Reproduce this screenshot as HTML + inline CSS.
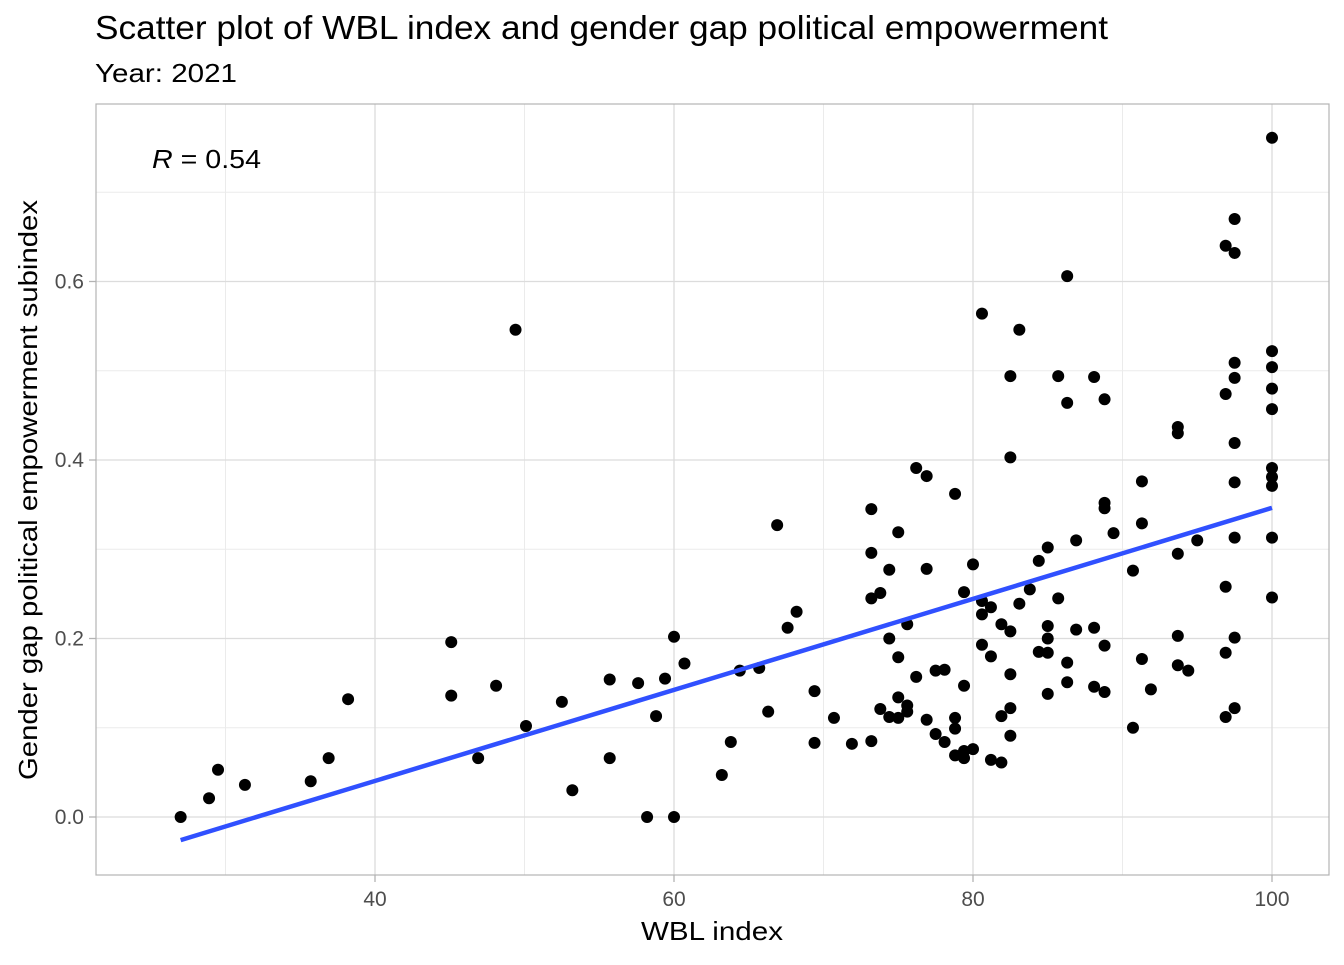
<!DOCTYPE html>
<html><head><meta charset="utf-8"><style>
body{margin:0;background:#fff;}
svg text{font-family:"Liberation Sans",Arial,sans-serif;}
</style></head><body>
<svg id="chart" width="1344" height="960" xmlns="http://www.w3.org/2000/svg">
<text x="95" y="39" font-size="33" textLength="1013" lengthAdjust="spacingAndGlyphs" fill="#000">Scatter plot of WBL index and gender gap political empowerment</text>
<text x="95" y="82" font-size="26" textLength="142" lengthAdjust="spacingAndGlyphs" fill="#000">Year: 2021</text>
<g id="grid"></g>
<g id="pts"></g>
<g id="fit"></g>
<rect x="96" y="104" width="1233" height="771" fill="none" stroke="#b3b3b3" stroke-width="1.2"/>
<g id="axes"></g>
<text x="152" y="168" font-size="26" textLength="109" lengthAdjust="spacingAndGlyphs" fill="#000"><tspan font-style="italic">R</tspan> = 0.54</text>
<text x="641" y="940" font-size="26" textLength="142" lengthAdjust="spacingAndGlyphs" fill="#000">WBL index</text>
<text transform="translate(37,780) rotate(-90)" font-size="26" textLength="580" lengthAdjust="spacingAndGlyphs" fill="#000">Gender gap political empowerment subindex</text>
</svg>
<script>
const xVals=[27,28.9,29.5,31.3,35.7,36.9,38.2,45.1,45.1,46.9,48.1,49.4,50.1,52.5,53.2,55.7,55.7,57.6,58.2,58.8,59.4,60,60,60.7,63.2,63.8,64.4,65.7,66.3,66.9,67.6,68.2,69.4,69.4,70.7,71.9,73.2,73.2,73.2,73.2,73.8,73.8,74.4,74.4,74.4,75,75,75,75,75.6,75.6,75.6,76.2,76.2,76.9,76.9,76.9,77.5,77.5,78.1,78.1,78.8,78.8,78.8,78.8,79.4,79.4,79.4,79.4,80,80,80.6,80.6,80.6,80.6,81.2,81.2,81.2,81.9,81.9,81.9,82.5,82.5,82.5,82.5,82.5,82.5,83.1,83.1,83.8,84.4,84.4,85,85,85,85,85,85.7,85.7,86.3,86.3,86.3,86.3,86.9,86.9,88.1,88.1,88.1,88.8,88.8,88.8,88.8,88.8,89.4,90.7,90.7,91.3,91.3,91.3,91.9,93.7,93.7,93.7,93.7,93.7,94.4,95,96.9,96.9,96.9,96.9,96.9,97.5,97.5,97.5,97.5,97.5,97.5,97.5,97.5,97.5,100,100,100,100,100,100,100,100,100,100];
const yVals=[0,0.021,0.053,0.036,0.04,0.066,0.132,0.196,0.136,0.066,0.147,0.546,0.102,0.129,0.03,0.154,0.066,0.15,0,0.113,0.155,0.202,0,0.172,0.047,0.084,0.164,0.167,0.118,0.327,0.212,0.23,0.141,0.083,0.111,0.082,0.345,0.296,0.245,0.085,0.251,0.121,0.277,0.2,0.112,0.319,0.179,0.134,0.111,0.216,0.125,0.118,0.391,0.157,0.382,0.278,0.109,0.164,0.093,0.165,0.084,0.362,0.111,0.099,0.069,0.252,0.147,0.074,0.066,0.283,0.076,0.564,0.242,0.227,0.193,0.235,0.18,0.064,0.216,0.113,0.061,0.494,0.403,0.208,0.16,0.122,0.091,0.546,0.239,0.255,0.287,0.185,0.302,0.214,0.2,0.184,0.138,0.494,0.245,0.606,0.464,0.173,0.151,0.31,0.21,0.493,0.212,0.146,0.468,0.352,0.346,0.192,0.14,0.318,0.276,0.1,0.376,0.329,0.177,0.143,0.437,0.43,0.295,0.203,0.17,0.164,0.31,0.474,0.64,0.258,0.184,0.112,0.67,0.632,0.509,0.492,0.419,0.375,0.313,0.201,0.122,0.761,0.522,0.504,0.48,0.457,0.391,0.381,0.371,0.313,0.246];
const xTicks=[40,60,80,100];
const xMinor=[30,50,70,90];
const yTicks=[0,0.2,0.4,0.6];
const yTickLabels=["0.0","0.2","0.4","0.6"];
const yMinor=[0.1,0.3,0.5,0.7];
const NS="http://www.w3.org/2000/svg";
const sx=v=>375+(v-40)*14.95;
const sy=v=>817-v*892.5;
function mk(t,a,p){const e=document.createElementNS(NS,t);for(const k in a)e.setAttribute(k,a[k]);p.appendChild(e);return e;}
const grid=document.getElementById('grid'),axes=document.getElementById('axes');
xMinor.forEach(v=>{const l=mk('line',{x1:sx(v),x2:sx(v),y1:104,y2:875,stroke:'#ebebeb','stroke-width':1},grid);

});
yMinor.forEach(v=>{const l=mk('line',{x1:96,x2:1329,y1:sy(v),y2:sy(v),stroke:'#ebebeb','stroke-width':1},grid);

});
xTicks.forEach(v=>{const l=mk('line',{x1:sx(v),x2:sx(v),y1:104,y2:875,stroke:'#dcdcdc','stroke-width':1.3},grid);


const t=mk('line',{x1:sx(v),x2:sx(v),y1:875,y2:882,stroke:'#b3b3b3','stroke-width':1.3},axes);


const tx=mk('text',{x:sx(v),y:906,'font-size':21,'text-anchor':'middle',fill:'#4d4d4d'},axes);tx.textContent=v;

});
yTicks.forEach((v,i)=>{const l=mk('line',{x1:96,x2:1329,y1:sy(v),y2:sy(v),stroke:'#dcdcdc','stroke-width':1.3},grid);


const t=mk('line',{x1:89,x2:96,y1:sy(v),y2:sy(v),stroke:'#b3b3b3','stroke-width':1.3},axes);


const tx=mk('text',{x:84,y:sy(v)+7,'font-size':21,'text-anchor':'end',fill:'#4d4d4d'},axes);tx.textContent=yTickLabels[i];

});
const pts=document.getElementById('pts');
xVals.forEach((x,i)=>{const c=mk('circle',{cx:sx(x),cy:sy(yVals[i]),r:6,fill:'#000'},pts);

});
const n=xVals.length;let mx=0,my=0;xVals.forEach((x,i)=>{mx+=x;my+=yVals[i];});mx/=n;my/=n;
let sxy=0,sxx=0;xVals.forEach((x,i)=>{sxy+=(x-mx)*(yVals[i]-my);sxx+=(x-mx)*(x-mx);});
const b=sxy/sxx,a=my-b*mx;const x0=Math.min(...xVals),x1=Math.max(...xVals);
const fl=mk('line',{x1:sx(x0),y1:sy(a+b*x0),x2:sx(x1),y2:sy(a+b*x1),stroke:'#3050ff','stroke-width':4.5},document.getElementById('fit'));


</script>
</body></html>
